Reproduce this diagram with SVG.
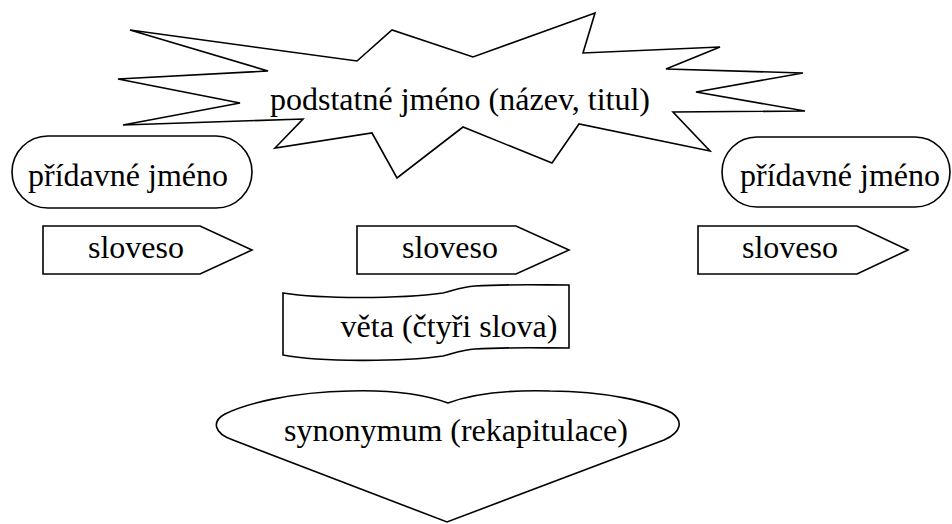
<svg xmlns="http://www.w3.org/2000/svg" width="952" height="524" viewBox="0 0 952 524">
<style>
.s{fill:#fff;stroke:#000;stroke-width:1.6;stroke-linejoin:miter}
.t{font-size:32px;fill:#000;text-anchor:middle}
</style>
<rect width="952" height="524" fill="#fff"/>
<g id="star">
<polygon class="s" points="130,30 357,61 392,30 473,57 595,13 583,53 720,47 666,69 803,73 696,92 805,111 673,112 710,151 579,124 552,163 463,127 397,178 372,133 275,148 303,119 123,125 240,103 118,79 268,71"/>
<text class="t" x="460" y="110" font-family="Times New Roman">podstatné jméno (název, titul)</text>
</g>
<g id="adj-left">
<rect class="s" x="12" y="136" width="240" height="72" rx="36" ry="36"/>
<text class="t" x="128" y="186" font-family="Times New Roman">přídavné jméno</text>
</g>
<g id="adj-right">
<rect class="s" x="722" y="137" width="228" height="70" rx="35" ry="35"/>
<text class="t" x="840" y="186" font-family="Times New Roman">přídavné jméno</text>
</g>
<g id="verb-left">
<polygon class="s" points="43,226 200,226 252,250 200,274 43,274"/>
<text class="t" x="136" y="258" font-family="Times New Roman">sloveso</text>
</g>
<g id="verb-mid">
<polygon class="s" points="357,226 516,226 569,250 516,274 357,274"/>
<text class="t" x="450" y="258" font-family="Times New Roman">sloveso</text>
</g>
<g id="verb-right">
<polygon class="s" points="698,226 857,226 908,250 857,274 698,274"/>
<text class="t" x="790" y="258" font-family="Times New Roman">sloveso</text>
</g>
<g id="sentence">
<path class="s" d="M283,293 C320,299 400,299 443,293 C455,290 462,287 475,286 C510,284 540,285 569,285 L569,348 C540,348 510,347 475,349 C462,350 455,353 443,356 C400,362 320,362 283,355 Z"/>
<text class="t" x="449" y="337" font-family="Times New Roman">věta (čtyři slova)</text>
</g>
<g id="synonym">
<path class="s" d="M448,403 C420,393 385,390 350,391 C290,392 245,404 225,414 C212,421 213,433 233,440 L447,522 L664,440 C682,432 683,421 672,413 C652,402 605,391 550,391 C515,390 475,393 448,403 Z"/>
<text class="t" x="456" y="441" font-family="Times New Roman">synonymum (rekapitulace)</text>
</g>
<g id="connectors"></g>
</svg>
